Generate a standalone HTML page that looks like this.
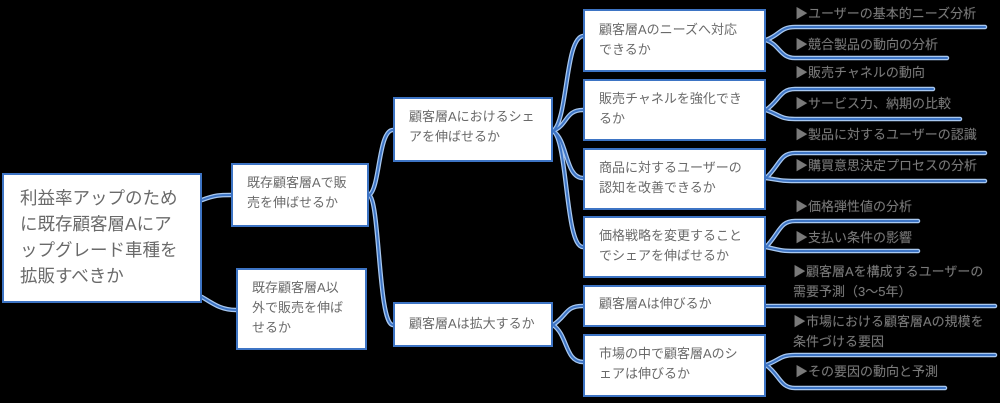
<!DOCTYPE html>
<html><head><meta charset="utf-8"><style>
body{margin:0;width:1000px;height:403px;background:#000;overflow:hidden;position:relative;font-family:"Liberation Sans","Noto Sans CJK JP",sans-serif}
.b{position:absolute;background:#fff;border:2px solid #3d74c4;box-sizing:border-box;color:#6a6a6a;font-size:13px;line-height:20px;padding:10px 14px}
.t{position:absolute;color:#7a7a7a;font-size:13px;line-height:20px;white-space:nowrap;text-shadow:0 0 1px #222}
svg{position:absolute;left:0;top:0}
</style></head><body>
<svg width="1000" height="403" fill="none">
<g stroke="#a8c8f0" stroke-width="4.5" stroke-linecap="round">
<path d="M202 200 C215 195,220 195,231 195"/>
<path d="M202 297 C215 305,222 310,236 310"/>
<path d="M369 195 C380 190,378 130,393 130"/>
<path d="M369 195 C380 200,378 325,393 325"/>
<path d="M553 131 C568 120,565 38,583 36"/>
<path d="M553 131 C568 125,565 110,583 110"/>
<path d="M553 131 C568 140,565 178,583 178"/>
<path d="M553 131 C568 140,565 247,583 247"/>
<path d="M553 325 C568 315,565 306,583 306"/>
<path d="M553 325 C568 335,565 362,583 362"/>
<path d="M766 40 C780 35,780 27,795 27 L985 27"/><path d="M766 40 C780 45,780 58,795 58 L947 58"/>
<path d="M766 110 C780 100,780 89,795 89 L933 89"/><path d="M766 110 C780 115,780 119,795 119 L960 119"/>
<path d="M766 178 C780 165,780 153,795 153 L985 153"/><path d="M766 178 C780 180,780 181,795 181 L985 181"/>
<path d="M766 247 C780 232,780 221,795 221 L918 221"/><path d="M766 247 C780 250,780 251,795 251 L918 251"/>
<path d="M766 306 L995 306"/>
<path d="M766 365 C780 360,780 355,795 355 L995 355"/><path d="M766 365 C780 375,780 388,795 388 L945 388"/>
</g>
<g stroke="#3d74c4" stroke-width="2" stroke-linecap="round">
<path d="M202 200 C215 195,220 195,231 195"/>
<path d="M202 297 C215 305,222 310,236 310"/>
<path d="M369 195 C380 190,378 130,393 130"/>
<path d="M369 195 C380 200,378 325,393 325"/>
<path d="M553 131 C568 120,565 38,583 36"/>
<path d="M553 131 C568 125,565 110,583 110"/>
<path d="M553 131 C568 140,565 178,583 178"/>
<path d="M553 131 C568 140,565 247,583 247"/>
<path d="M553 325 C568 315,565 306,583 306"/>
<path d="M553 325 C568 335,565 362,583 362"/>
<path d="M766 40 C780 35,780 27,795 27 L985 27"/><path d="M766 40 C780 45,780 58,795 58 L947 58"/>
<path d="M766 110 C780 100,780 89,795 89 L933 89"/><path d="M766 110 C780 115,780 119,795 119 L960 119"/>
<path d="M766 178 C780 165,780 153,795 153 L985 153"/><path d="M766 178 C780 180,780 181,795 181 L985 181"/>
<path d="M766 247 C780 232,780 221,795 221 L918 221"/><path d="M766 247 C780 250,780 251,795 251 L918 251"/>
<path d="M766 306 L995 306"/>
<path d="M766 365 C780 360,780 355,795 355 L995 355"/><path d="M766 365 C780 375,780 388,795 388 L945 388"/>
</g>
</svg>
<div class="b" style="left:2px;top:173px;width:200px;height:130px;font-size:17.5px;line-height:26px;padding:10px 6px 8px 16px;white-space:nowrap">利益率アップのため<br>に既存顧客層Aにア<br>ップグレード車種を<br>拡販すべきか</div>
<div class="b" style="left:231px;top:163px;width:138px;height:64px;padding:8px 14px">既存顧客層Aで販売を伸ばせるか</div>
<div class="b" style="left:236px;top:268px;width:131px;height:82px;padding:8px 14px">既存顧客層A以外で販売を伸ばせるか</div>
<div class="b" style="left:393px;top:97px;width:160px;height:65px;padding:8px 14px">顧客層Aにおけるシェアを伸ばせるか</div>
<div class="b" style="left:393px;top:302px;width:160px;height:45px;padding:10px 14px">顧客層Aは拡大するか</div>
<div class="b" style="left:583px;top:9px;width:183px;height:63px;padding:9px 14px">顧客層Aのニーズへ対応できるか</div>
<div class="b" style="left:583px;top:79px;width:183px;height:62px;padding:8px 14px">販売チャネルを強化できるか</div>
<div class="b" style="left:583px;top:148px;width:183px;height:62px;padding:8px 14px">商品に対するユーザーの認知を改善できるか</div>
<div class="b" style="left:583px;top:216px;width:183px;height:62px;padding:8px 14px">価格戦略を変更することでシェアを伸ばせるか</div>
<div class="b" style="left:583px;top:285px;width:183px;height:42px;padding:7px 14px">顧客層Aは伸びるか</div>
<div class="b" style="left:583px;top:334px;width:183px;height:63px;padding:8px 14px">市場の中で顧客層Aのシェアは伸びるか</div>
<div class="t" style="left:795px;top:4px">▶ユーザーの基本的ニーズ分析</div>
<div class="t" style="left:795px;top:35px">▶競合製品の動向の分析</div>
<div class="t" style="left:795px;top:63px">▶販売チャネルの動向</div>
<div class="t" style="left:795px;top:94px">▶サービス力、納期の比較</div>
<div class="t" style="left:795px;top:125px">▶製品に対するユーザーの認識</div>
<div class="t" style="left:795px;top:156px">▶購買意思決定プロセスの分析</div>
<div class="t" style="left:795px;top:197px">▶価格弾性値の分析</div>
<div class="t" style="left:795px;top:228px">▶支払い条件の影響</div>
<div class="t" style="left:793px;top:262px">▶顧客層Aを構成するユーザーの<br>需要予測（3～5年）</div>
<div class="t" style="left:793px;top:312px">▶市場における顧客層Aの規模を<br>条件づける要因</div>
<div class="t" style="left:795px;top:362px">▶その要因の動向と予測</div>
</body></html>
